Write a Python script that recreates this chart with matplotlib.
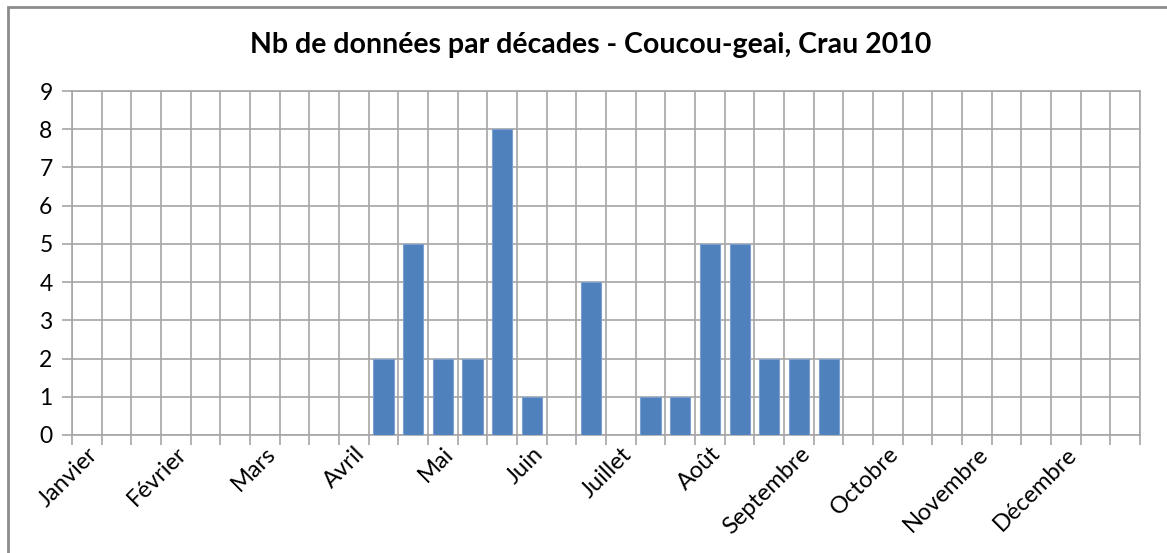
import numpy as np
import matplotlib
matplotlib.use('Agg')
import matplotlib.pyplot as plt
from matplotlib.patches import Rectangle

plt.rcParams['font.family'] = ['Lato', 'DejaVu Sans']

months = ['Janvier', 'Février', 'Mars', 'Avril', 'Mai', 'Juin', 'Juillet',
          'Août', 'Septembre', 'Octobre', 'Novembre', 'Décembre']
# one value per decade (3 per month)
counts = [0, 0, 0, 0, 0, 0, 0, 0, 0,
          0, 2, 5, 2, 2, 8, 1, 0, 4,
          0, 1, 1, 5, 5, 2, 2, 2, 0,
          0, 0, 0, 0, 0, 0, 0, 0, 0]
title = 'Nb de données par décades - Coucou-geai, Crau 2010'

grid_col = '#A6A6A6'

fig = plt.figure(figsize=(11.67, 5.53), dpi=100)
ax = fig.add_axes([0.0617, 0.2134, 0.9153, 0.622])

x = np.arange(len(counts))
ax.bar(x, counts, width=0.68, color='#4F81BD', edgecolor='#7BA0D0', linewidth=0.8, zorder=3)

ax.set_xlim(-0.5, len(counts) - 0.5)
ax.set_ylim(0, 9)
ax.set_yticks(range(0, 10))

ax.set_xticks(np.arange(0, len(counts), 3))
ax.set_xticklabels(months, rotation=45, ha='right', rotation_mode='anchor')
ax.set_xticks(np.arange(-0.5, len(counts)), minor=True)

ax.grid(which='minor', axis='x', color=grid_col, linewidth=1.2, zorder=0)
ax.grid(which='major', axis='y', color=grid_col, linewidth=1.2, zorder=0)
ax.tick_params(axis='x', which='major', length=0, pad=6, labelsize=17)
ax.tick_params(axis='x', which='minor', length=7, color=grid_col, width=1.2)
ax.tick_params(axis='y', length=7, color=grid_col, width=1.2, labelsize=16.5, pad=7)
for s in ax.spines.values():
    s.set_color(grid_col)
    s.set_linewidth(1.2)

fig.text(0.506, 0.918, title, ha='center', va='center', fontsize=20.5, fontweight='bold')

fig.patches.append(Rectangle((0.007, -0.01), 1.0, 0.998, transform=fig.transFigure,
                             fill=False, edgecolor='#8C8C8C', linewidth=2))

fig.savefig('out.png', dpi=100)
